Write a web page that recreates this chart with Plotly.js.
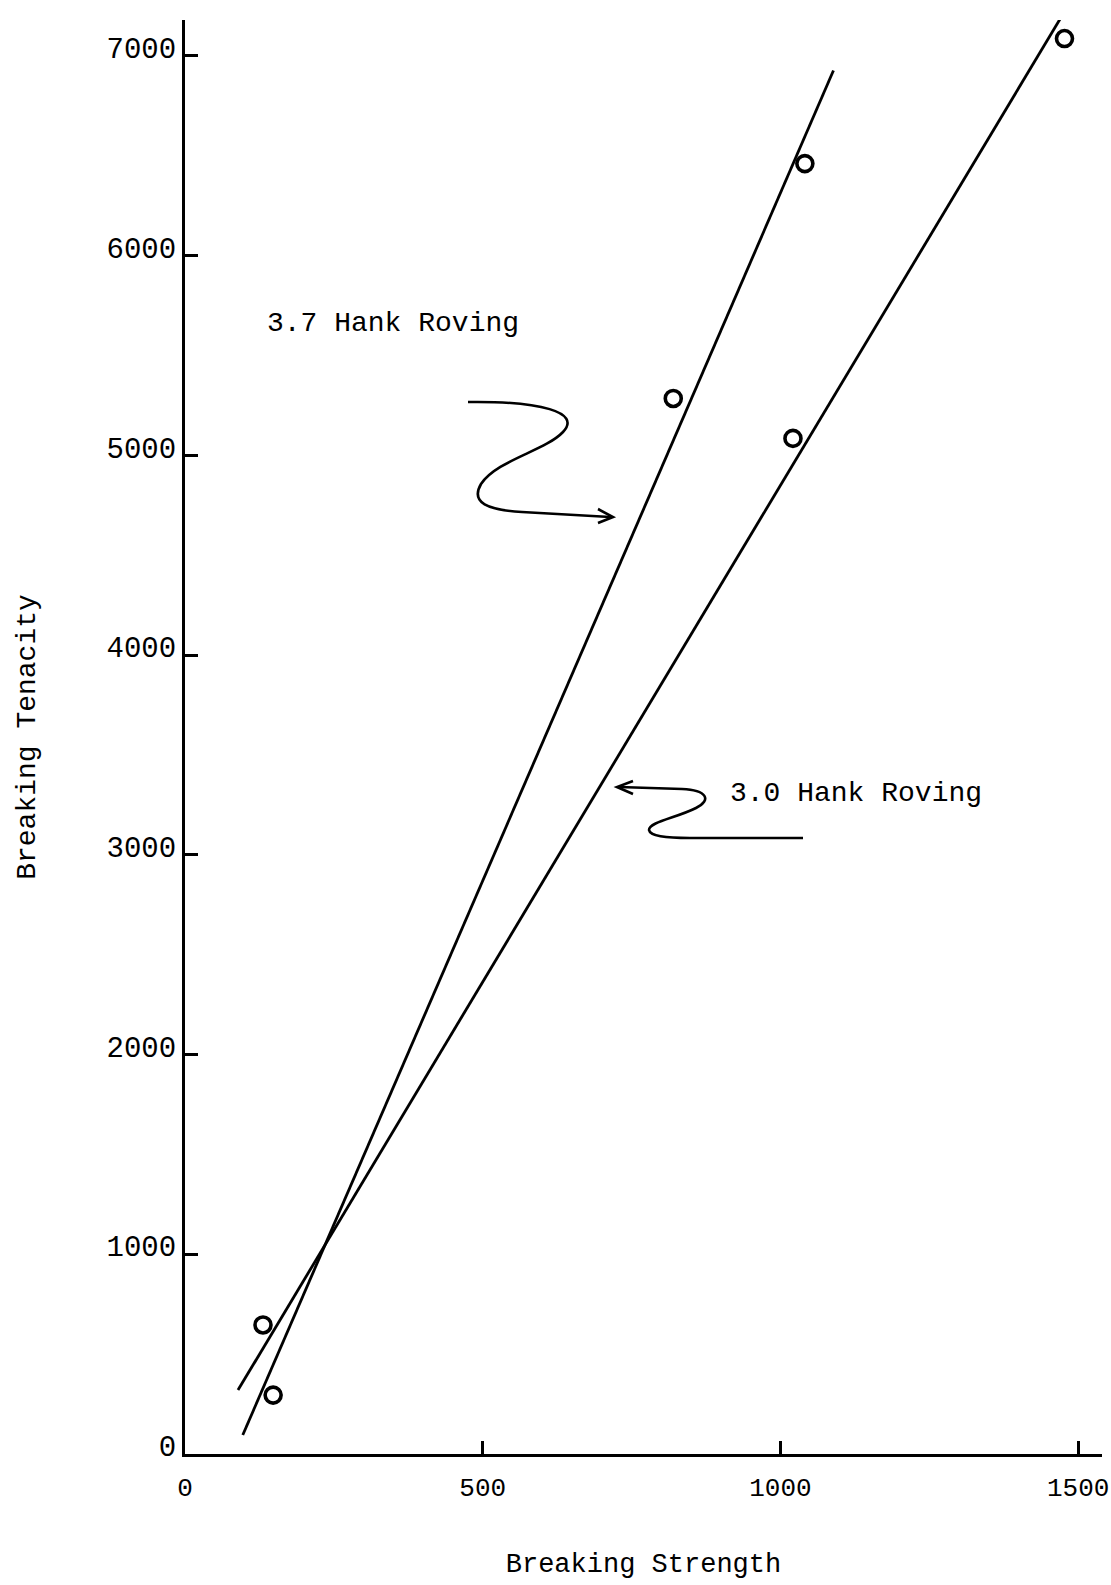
<!DOCTYPE html>
<html>
<head>
<meta charset="utf-8">
<script src="https://cdn.plot.ly/plotly-3.0.1.min.js"></script>
<style>
  html, body { margin: 0; padding: 0; background: #ffffff; }
  #chart { width: 1111px; height: 1585px; }
</style>
</head>
<body>
<div id="chart"></div>
<script>
// ---- data ----
const hank37_strength = [148, 820, 1041];
const hank37_tenacity = [295, 5285, 6461];
const hank30_strength = [131, 1021, 1477];
const hank30_tenacity = [646, 5085, 7087];

// fitted straight lines (end points as drawn)
const fit37_strength = [97, 1089];
const fit37_tenacity = [95, 6927];
const fit30_strength = [89, 1475];
const fit30_tenacity = [320, 7212];

const xTickVals = [0, 500, 1000, 1500];
const xTickText = ['0', '500', '1000', '1500'];
const yTickVals = [0, 1000, 2000, 3000, 4000, 5000, 6000, 7000];
const yTickText = ['0', '1000', '2000', '3000', '4000', '5000', '6000', '7000'];

const label37 = '3.7 Hank Roving';
const label30 = '3.0 Hank Roving';
const xTitle = 'Breaking Strength';
const yTitle = 'Breaking Tenacity';

// ---- layout geometry ----
const W = 1111, H = 1585;
const M = { l: 185, r: 9, t: 20, b: 131 };
const XR = [0, 1540], YR = [0, 7180];
const FONT = 'Liberation Mono, DejaVu Sans Mono, monospace';

// convert page pixels to data coordinates (for decorative squiggle arrows)
function px2x(px) { return XR[0] + (px - M.l) / (W - M.l - M.r) * (XR[1] - XR[0]); }
function px2y(py) { return YR[0] + (H - M.b - py) / (H - M.t - M.b) * (YR[1] - YR[0]); }
function pathFromPx(cmds) {
  return cmds.map(c => {
    const op = c[0];
    const pts = [];
    for (let i = 1; i < c.length; i += 2) pts.push(px2x(c[i]).toFixed(2) + ',' + px2y(c[i + 1]).toFixed(2));
    return op + pts.join(' ');
  }).join(' ');
}

const squiggle37 = [
  ['M', 468, 402],
  ['C', 540, 401, 582, 412, 563, 432],
  ['C', 545, 451, 497, 460, 481, 484],
  ['C', 470, 503, 488, 510, 522, 512],
  ['L', 610, 517]
];
const head37 = [['M', 598, 509], ['L', 613, 517], ['L', 598, 523]];
const squiggle30 = [
  ['M', 619, 787],
  ['L', 682, 789],
  ['C', 707, 790, 712, 800, 696, 808],
  ['C', 676, 818, 649, 822, 649, 830],
  ['C', 650, 836, 665, 838, 690, 838],
  ['L', 803, 838]
];
const head30 = [['M', 633, 781], ['L', 617, 787], ['L', 633, 794]];

const lineStyle = { color: '#000000', width: 2.8 };
const shapes = [squiggle37, head37, squiggle30, head30].map(p => ({
  type: 'path', xref: 'x', yref: 'y', path: pathFromPx(p),
  line: { color: '#000000', width: 2.6 }
}));

const markerStyle = { symbol: 'circle-open', size: 16, color: '#000000', line: { width: 3.6, color: '#000000' } };

const traces = [
  { x: fit37_strength, y: fit37_tenacity, mode: 'lines', line: lineStyle, name: label37 + ' fit', showlegend: false, hoverinfo: 'skip' },
  { x: fit30_strength, y: fit30_tenacity, mode: 'lines', line: lineStyle, name: label30 + ' fit', showlegend: false, hoverinfo: 'skip' },
  { x: hank37_strength, y: hank37_tenacity, mode: 'markers', name: label37, showlegend: false, cliponaxis: false, marker: markerStyle },
  { x: hank30_strength, y: hank30_tenacity, mode: 'markers', name: label30, showlegend: false, cliponaxis: false, marker: markerStyle }
];

const layout = {
  width: W, height: H,
  margin: M,
  paper_bgcolor: '#ffffff', plot_bgcolor: '#ffffff',
  font: { family: FONT, size: 28, color: '#000000' },
  showlegend: false,
  xaxis: {
    range: XR, autorange: false,
    showgrid: false, zeroline: false,
    showline: true, linecolor: '#000000', linewidth: 3,
    ticks: 'inside', ticklen: 13, tickwidth: 3, tickcolor: '#000000',
    tickvals: xTickVals, ticktext: xTickText,
    ticklabelstandoff: 8, ticklabeloverflow: 'allow',
    tickfont: { family: FONT, size: 26, color: '#000000' },
    title: { text: xTitle, font: { family: FONT, size: 27, color: '#000000' }, standoff: 50 },
    automargin: false
  },
  yaxis: {
    range: YR, autorange: false,
    showgrid: false, zeroline: false,
    showline: true, linecolor: '#000000', linewidth: 3,
    ticks: 'inside', ticklen: 13, tickwidth: 3, tickcolor: '#000000',
    tickvals: yTickVals, ticktext: yTickText,
    ticklabelstandoff: 0, ticklabelshift: -8,
    tickfont: { family: FONT, size: 29, color: '#000000' },
    title: { text: yTitle, font: { family: FONT, size: 28, color: '#000000' }, standoff: 63 },
    automargin: false
  },
  shapes: shapes,
  annotations: [
    { xref: 'x', yref: 'y', x: px2x(265), y: px2y(323), xanchor: 'left', yanchor: 'middle',
      text: label37, showarrow: false, font: { family: FONT, size: 28, color: '#000000' } },
    { xref: 'x', yref: 'y', x: px2x(728), y: px2y(793), xanchor: 'left', yanchor: 'middle',
      text: label30, showarrow: false, font: { family: FONT, size: 28, color: '#000000' } }
  ]
};

Plotly.newPlot('chart', traces, layout, { staticPlot: true, displayModeBar: false });
</script>
</body>
</html>
